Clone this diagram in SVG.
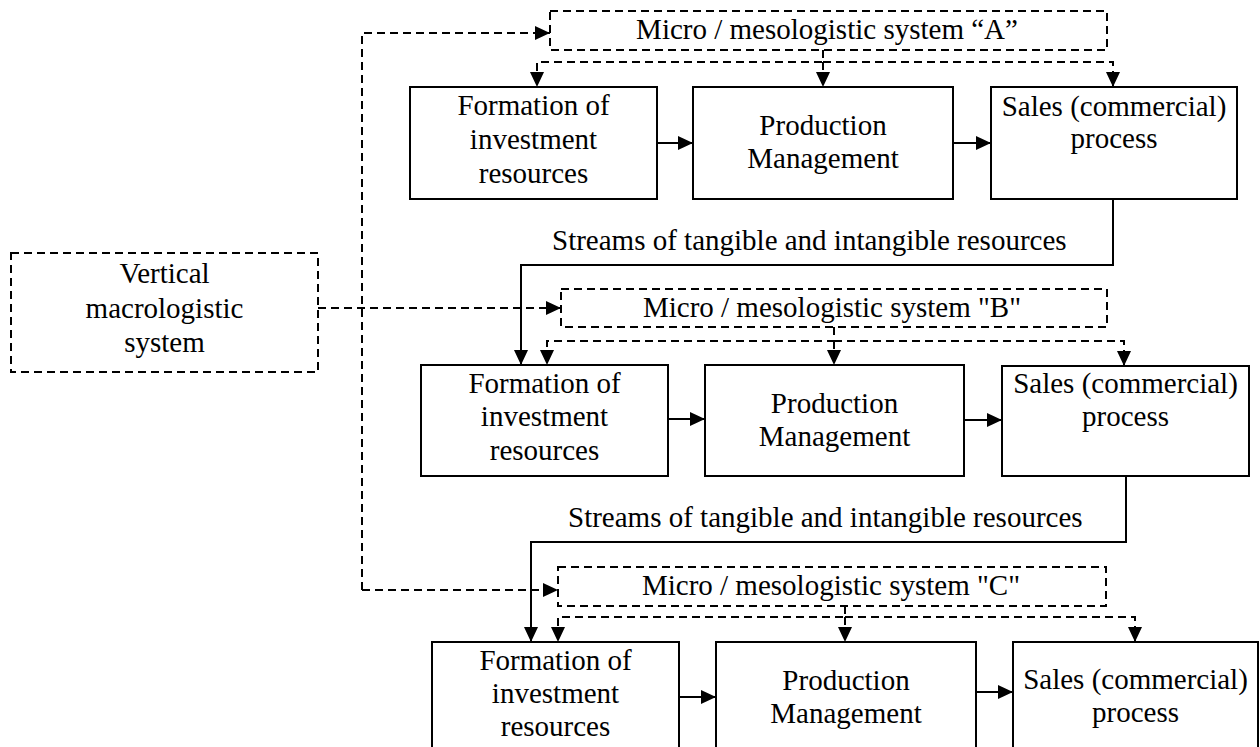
<svg xmlns="http://www.w3.org/2000/svg" width="1260" height="747" viewBox="0 0 1260 747">
<defs>
<marker id="ah" markerUnits="userSpaceOnUse" markerWidth="15" markerHeight="14" refX="15" refY="7" orient="auto">
<path d="M0,0 L15,7 L0,14 Z" fill="#000"/>
</marker>
<style>
text{font-family:"Liberation Serif","Times New Roman",serif;font-size:29px;fill:#000;text-anchor:middle}
.box{fill:#fff;stroke:#000;stroke-width:2}
.dbox{fill:none;stroke:#000;stroke-width:2;stroke-dasharray:8 5}
.sol{fill:none;stroke:#000;stroke-width:2;marker-end:url(#ah)}
.dsha{fill:none;stroke:#000;stroke-width:2;stroke-dasharray:8 5;marker-end:url(#ah)}
.st{text-anchor:start}
</style>
</defs>
<rect width="1260" height="747" fill="#fff"/>

<g id="connectors">
<path class="dsha" d="M362,590 V33 H550"/>
<path class="dsha" d="M362,590 H558"/>
<path class="dsha" d="M318,308 H561"/>
<path class="dsha" d="M823,50 V62 H537 V87"/>
<path class="dsha" d="M823,62 H1113 V87"/>
<path class="dsha" d="M823,62 V87"/>
<path class="dsha" d="M834,327 V341 H547 V365"/>
<path class="dsha" d="M834,341 H1124 V366"/>
<path class="dsha" d="M834,341 V365"/>
<path class="dsha" d="M845,606 V617 H558 V642"/>
<path class="dsha" d="M845,617 H1135 V642"/>
<path class="dsha" d="M845,617 V642"/>
<path class="sol" d="M1113,199 V265 H521 V365"/>
<path class="sol" d="M1126,476 V542 H531 V642"/>
<path class="sol" d="M657,143 H693"/>
<path class="sol" d="M953,143 H991"/>
<path class="sol" d="M668,419 H705"/>
<path class="sol" d="M964,420 H1002"/>
<path class="sol" d="M679,697 H716"/>
<path class="sol" d="M976,692 H1013"/>
</g>

<g id="label-streams-1"><text class="st" x="552" y="250">Streams of tangible and intangible resources</text></g>
<g id="label-streams-2"><text class="st" x="568" y="527">Streams of tangible and intangible resources</text></g>

<g id="vertical-macro">
<rect class="dbox" x="11" y="253" width="307" height="119"/>
<text x="164.5" y="283">Vertical</text>
<text x="164.5" y="318">macrologistic</text>
<text x="164.5" y="352">system</text>
</g>

<g id="system-a">
<rect class="dbox" x="550" y="11" width="557" height="39"/>
<text x="827" y="39">Micro / mesologistic system “A”</text>
</g>
<g id="a-formation">
<rect class="box" x="410" y="87" width="247" height="112"/>
<text x="533.5" y="115">Formation of</text>
<text x="533.5" y="149">investment</text>
<text x="533.5" y="183">resources</text>
</g>
<g id="a-production">
<rect class="box" x="693" y="87" width="260" height="112"/>
<text x="823" y="135">Production</text>
<text x="823" y="168">Management</text>
</g>
<g id="a-sales">
<rect class="box" x="991" y="87" width="246" height="112"/>
<text x="1114" y="116">Sales (commercial)</text>
<text x="1114" y="148">process</text>
</g>

<g id="system-b">
<rect class="dbox" x="561" y="289" width="546" height="38"/>
<text x="832" y="317">Micro / mesologistic system "B"</text>
</g>
<g id="b-formation">
<rect class="box" x="421" y="365" width="247" height="111"/>
<text x="544.5" y="393">Formation of</text>
<text x="544.5" y="426">investment</text>
<text x="544.5" y="460">resources</text>
</g>
<g id="b-production">
<rect class="box" x="705" y="365" width="259" height="111"/>
<text x="834.5" y="413">Production</text>
<text x="834.5" y="446">Management</text>
</g>
<g id="b-sales">
<rect class="box" x="1002" y="366" width="247" height="110"/>
<text x="1125.5" y="393">Sales (commercial)</text>
<text x="1125.5" y="426">process</text>
</g>

<g id="system-c">
<rect class="dbox" x="558" y="567" width="548" height="39"/>
<text x="831" y="595">Micro / mesologistic system "C"</text>
</g>
<g id="c-formation">
<rect class="box" x="432" y="642" width="247" height="120"/>
<text x="555.5" y="670">Formation of</text>
<text x="555.5" y="703">investment</text>
<text x="555.5" y="736">resources</text>
</g>
<g id="c-production">
<rect class="box" x="716" y="642" width="260" height="120"/>
<text x="846" y="690">Production</text>
<text x="846" y="723">Management</text>
</g>
<g id="c-sales">
<rect class="box" x="1013" y="642" width="245" height="120"/>
<text x="1135.5" y="689">Sales (commercial)</text>
<text x="1135.5" y="722">process</text>
</g>
</svg>
